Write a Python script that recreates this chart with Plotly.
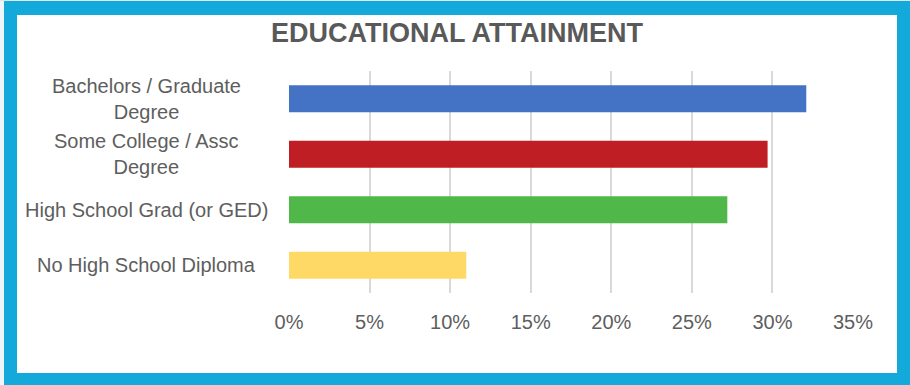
import plotly.graph_objects as go

# Educational attainment shares (fraction of population), top to bottom
categories = [
    "Bachelors / Graduate<br>Degree",
    "Some College / Assc<br>Degree",
    "High School Grad (or GED)",
    "No High School Diploma",
]
shares = [0.321, 0.297, 0.272, 0.110]
bar_colors = ["#4472C4", "#BE1E24", "#50B848", "#FFD966"]
tick_values = [0, 0.05, 0.10, 0.15, 0.20, 0.25, 0.30, 0.35]
tick_labels = ["0%", "5%", "10%", "15%", "20%", "25%", "30%", "35%"]

W, H = 910, 385
L, R, T, B = 289, 57, 71, 92
plot_w = W - L - R
plot_h = H - T - B

FRAME = "#13AADB"
TEXT = "#5E5E5E"
FONT = "Liberation Sans, Arial, sans-serif"

fig = go.Figure(
    go.Bar(
        x=shares,
        y=categories,
        orientation="h",
        marker=dict(color=bar_colors, line=dict(width=0)),
        width=0.49,
        hoverinfo="skip",
    )
)

# pixel -> paper coordinate helpers for the frame pieces
def px_x(p):
    return (p - L) / plot_w

def px_y(p):
    return (H - B - p) / plot_h

# white card inside the blue frame
fig.add_shape(
    type="rect", xref="paper", yref="paper", layer="below",
    x0=px_x(17), x1=px_x(897), y0=px_y(373), y1=px_y(15),
    fillcolor="white", line=dict(width=0),
)
# pale edge along the left side and top of the frame
fig.add_shape(
    type="rect", xref="paper", yref="paper", layer="below",
    x0=px_x(0), x1=px_x(4), y0=px_y(H), y1=px_y(0),
    fillcolor="#EEF6F9", line=dict(width=0),
)
fig.add_shape(
    type="rect", xref="paper", yref="paper", layer="below",
    x0=px_x(0), x1=px_x(W), y0=px_y(1), y1=px_y(0),
    fillcolor="#DDE9EE", line=dict(width=0),
)

# centred category labels to the left of the bars
for cat in categories:
    fig.add_annotation(
        x=px_x(146), xref="paper", y=cat, yref="y",
        text=cat, showarrow=False, xanchor="center", yanchor="middle",
        align="center", font=dict(family=FONT, size=20, color=TEXT),
    )

fig.update_layout(
    width=W, height=H,
    margin=dict(l=L, r=R, t=T, b=B, pad=0),
    paper_bgcolor=FRAME,
    plot_bgcolor="white",
    showlegend=False,
    title=dict(
        text="<b>EDUCATIONAL ATTAINMENT</b>",
        x=457 / W, xanchor="center", xref="container",
        y=1 - 33 / H, yanchor="middle", yref="container",
        font=dict(family=FONT, size=27, color="#595959"),
    ),
    xaxis=dict(
        range=[0, 0.35],
        tickvals=tick_values,
        ticktext=tick_labels,
        showgrid=True,
        gridcolor="#D9D9D9",
        gridwidth=1.5,
        zeroline=False,
        showline=False,
        ticks="",
        ticklabelstandoff=15,
        tickfont=dict(family=FONT, size=20, color=TEXT),
    ),
    yaxis=dict(
        autorange="reversed",
        showticklabels=False,
        showgrid=False,
        zeroline=False,
        showline=False,
        ticks="",
    ),
    bargap=0.51,
)

fig.write_html("out.html")
